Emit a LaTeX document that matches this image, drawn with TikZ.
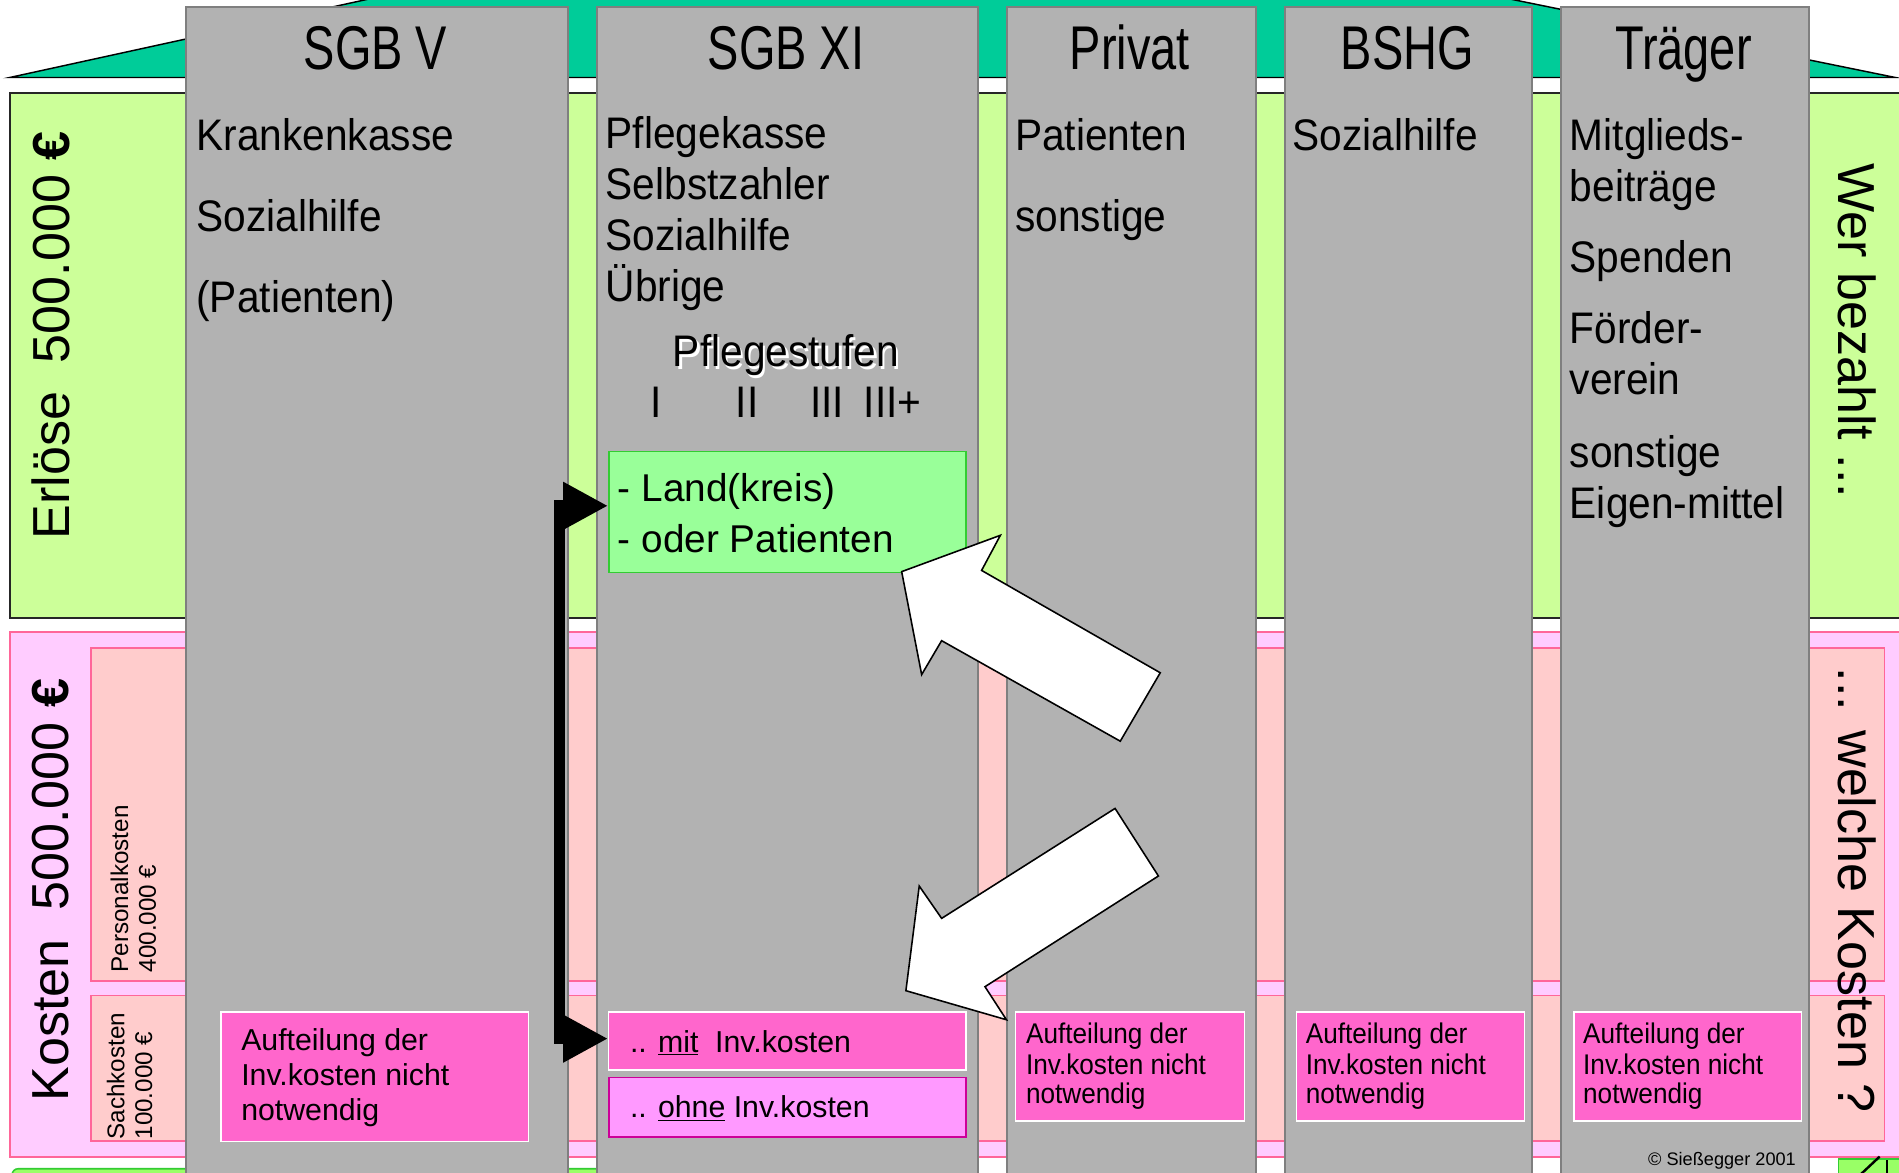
\documentclass[tikz,border=0pt]{standalone}
\usepackage{fontspec}
\setmainfont{Liberation Sans}
\newfontfamily\nar[FakeStretch=0.92]{Liberation Sans}
\newfontfamily\hd[FakeStretch=0.76]{Liberation Sans}
\usetikzlibrary{arrows.meta}
\definecolor{roof}{HTML}{00CC99}
\definecolor{erl}{HTML}{CCFF99}
\definecolor{kost}{HTML}{FFCCFF}
\definecolor{kline}{HTML}{FF6699}
\definecolor{inner}{HTML}{FFCCCC}
\definecolor{colfill}{HTML}{B2B2B2}
\definecolor{colline}{HTML}{7F7F7F}
\definecolor{land}{HTML}{99FF99}
\definecolor{landline}{HTML}{33CC33}
\definecolor{inv}{HTML}{FF66CC}
\definecolor{ohne}{HTML}{FF99FF}
\definecolor{ohneline}{HTML}{CC0099}
\definecolor{bgreen}{HTML}{99FF66}
\definecolor{bgline}{HTML}{33CC33}
\tikzset{
  colbox/.style={draw=colline, fill=colfill, line width=1.5pt, anchor=north west, inner sep=0pt, minimum height=1000pt},
  head/.style={anchor=base, inner sep=0pt, font=\hd\fontsize{51}{56}\selectfont},
  ctext/.style={anchor=base west, inner sep=0pt, font=\nar\fontsize{36.5}{42}\selectfont},
  btext/.style={anchor=base west, inner sep=0pt, font=\fontsize{25}{29}\selectfont},
  ntext/.style={anchor=base west, inner sep=0pt, font=\nar\fontsize{23.5}{27}\selectfont},
  pinkbox/.style={draw=white, fill=inv, line width=1.2pt, anchor=north west, inner sep=0pt},
  biglab/.style={inner sep=0pt, font=\fontsize{43}{50}\selectfont},
  smalllab/.style={inner sep=0pt, anchor=north west, align=left, font=\fontsize{20}{23}\selectfont},
  blockarrow/.style={draw=black, fill=white, line width=1.3pt, line join=miter},
}
\begin{document}
\begin{tikzpicture}[x=1pt,y=-1pt]
\useasboundingbox (0,0) rectangle (1568,968);
\clip (0,0) rectangle (1568,968);
\fill[white] (0,0) rectangle (1568,968);
% roof
\fill[roof] (8,64) -- (310,-2) -- (1241,-2) -- (1565,64) -- cycle;
\draw[black, line width=1.2pt] (310,-2) -- (8,64) -- (1565,64) -- (1241,-2);
% revenue and cost bands
\draw[fill=erl, draw=black!85, line width=1.5pt] (8,77) rectangle (1580,510);
\draw[fill=kost, draw=kline, line width=1.5pt] (8,522) rectangle (1580,955);
\draw[fill=inner, draw=kline, line width=1.3pt] (75,535) rectangle (1556,810);
\draw[fill=inner, draw=kline, line width=1.3pt] (75,822) rectangle (1556,942);
% bottom partial shapes
\draw[fill=bgreen, draw=bgline, line width=1.3pt, rounded corners=5pt] (10,965) rectangle (500,995);
\draw[fill=bgreen, draw=bgline, line width=1.3pt] (1518,957) rectangle (1585,995);
\draw[black, line width=2pt] (1536,970) -- (1552,955);
\draw[black, line width=2pt] (1558,958) -- (1558,970);
% columns
\node[colbox, minimum width=315pt] (c1) at (153,5) {};
\node[colbox, minimum width=315pt] (c2) at (492,5) {};
\node[colbox, minimum width=205pt] (c3) at (831,5) {};
\node[colbox, minimum width=204pt] (c4) at (1060,5) {};
\node[colbox, minimum width=205pt] (c5) at (1288,5) {};
% headings
\node[head] (h1) at (310,57) {SGB V};
\node[head] (h2) at (649,57) {SGB XI};
\node[head] (h3) at (933,57) {Privat};
\node[head] (h4) at (1162,57) {BSHG};
\node[head] (h5) at (1390,57) {Träger};
% SGB V texts
\node[ctext] (t11) at (162,124) {Krankenkasse};
\node[ctext] (t12) at (162,191) {Sozialhilfe};
\node[ctext] (t13) at (162,258) {(Patienten)};
% SGB XI texts
\node[ctext] (t21) at (500,123) {Pflegekasse};
\node[ctext] (t22) at (500,165) {Selbstzahler};
\node[ctext] (t23) at (500,207) {Sozialhilfe};
\node[ctext] (t24) at (500,249) {Übrige};
\node[ctext, anchor=base, text=white] (pfs) at (651,305) {Pflegestufen};
\node[ctext, anchor=base] (pf) at (649,303) {Pflegestufen};
\node[ctext, anchor=base] (s1) at (542,345) {I};
\node[ctext, anchor=base] (s2) at (617,345) {II};
\node[ctext, anchor=base] (s3) at (683,345) {III};
\node[ctext, anchor=base] (s4) at (737,345) {III+};
% Privat
\node[ctext] (t31) at (838,124) {Patienten};
\node[ctext] (t32) at (838,191) {sonstige};
% BSHG
\node[ctext] (t41) at (1067,124) {Sozialhilfe};
% Traeger
\node[ctext] (t51) at (1296,124) {Mitglieds-};
\node[ctext] (t52) at (1296,166) {beiträge};
\node[ctext] (t53) at (1296,225) {Spenden};
\node[ctext] (t54) at (1296,284) {Förder-};
\node[ctext] (t55) at (1296,326) {verein};
\node[ctext] (t56) at (1296,386) {sonstige};
\node[ctext] (t57) at (1296,428) {Eigen-mittel};
% Land box
\node[draw=landline, fill=land, line width=1.3pt, anchor=north west, inner sep=0pt, minimum width=295pt, minimum height=100pt] (land) at (502,372) {};
\node[anchor=base west, inner sep=0pt, font=\fontsize{32}{38}\selectfont] (l1) at (510,414) {- Land(kreis)};
\node[anchor=base west, inner sep=0pt, font=\fontsize{32}{38}\selectfont] (l2) at (510,456) {- oder Patienten};
% mit / ohne boxes
\node[pinkbox, minimum width=295pt, minimum height=48pt] (mit) at (502,835) {};
\node[btext] (mitt) at (520,869) {.. \underline{mit}\ \ Inv.kosten};
\node[draw=ohneline, fill=ohne, line width=1.3pt, anchor=north west, inner sep=0pt, minimum width=295pt, minimum height=49pt] (ohne) at (502,889) {};
\node[btext] (ohnet) at (520,923) {.. \underline{ohne} Inv.kosten};
% SGB V box
\node[pinkbox, minimum width=254pt, minimum height=107pt] (b1) at (182,835) {};
\node[btext] (b11) at (199,867) {Aufteilung der};
\node[btext] (b12) at (199,896) {Inv.kosten nicht};
\node[btext] (b13) at (199,925) {notwendig};
% Privat box
\node[pinkbox, minimum width=189pt, minimum height=90pt] (b3) at (838,835) {};
\node[ntext] (b31) at (847,862) {Aufteilung der};
\node[ntext] (b32) at (847,887) {Inv.kosten nicht};
\node[ntext] (b33) at (847,911) {notwendig};
% BSHG box
\node[pinkbox, minimum width=188pt, minimum height=90pt] (b4) at (1070,835) {};
\node[ntext] (b41) at (1078,862) {Aufteilung der};
\node[ntext] (b42) at (1078,887) {Inv.kosten nicht};
\node[ntext] (b43) at (1078,911) {notwendig};
% Traeger box
\node[pinkbox, minimum width=188pt, minimum height=90pt] (b5) at (1299,835) {};
\node[ntext] (b51) at (1307,862) {Aufteilung der};
\node[ntext] (b52) at (1307,887) {Inv.kosten nicht};
\node[ntext] (b53) at (1307,911) {notwendig};
% copyright
\node[anchor=base east, inner sep=0pt, font=\fontsize{15}{18}\selectfont] (copy) at (1483,962) {© Sießegger 2001};
% black double arrow
\draw[line width=9pt, line join=miter, {Triangle[length=37pt,width=37pt]}-{Triangle[length=37pt,width=37pt]}] ([yshift=5pt]land.west) -- ++(-40,0) |- ([yshift=2pt]mit.west);
% white block arrows
\draw[blockarrow] (744.5,472) -- (826,442) -- (810.5,471) -- (958,555.5) -- (925,612) -- (777.5,529) -- (761,557) -- cycle;
\draw[blockarrow] (831,842) -- (748,818) -- (759,731.6) -- (777.5,758.3) -- (920.7,667.5) -- (956.5,723.3) -- (813.3,814.7) -- cycle;
% side labels
\node[biglab, rotate=90] (erloese) at (42,277) {Erlöse\ \ 500.000 \textbf{€}};
\node[biglab, rotate=90] (kosten) at (42,735) {Kosten\ \ 500.000 \textbf{€}};
\node[smalllab, rotate=90] (pers) at (91,803) {Personalkosten\\400.000 €};
\node[smalllab, rotate=90] (sach) at (88,941) {Sachkosten\\100.000 €};
\node[biglab, rotate=-90] (wer) at (1533,273) {Wer bezahlt ...};
\node[biglab, rotate=-90] (welche) at (1533,735) {... welche Kosten ?};
\end{tikzpicture}
\end{document}
